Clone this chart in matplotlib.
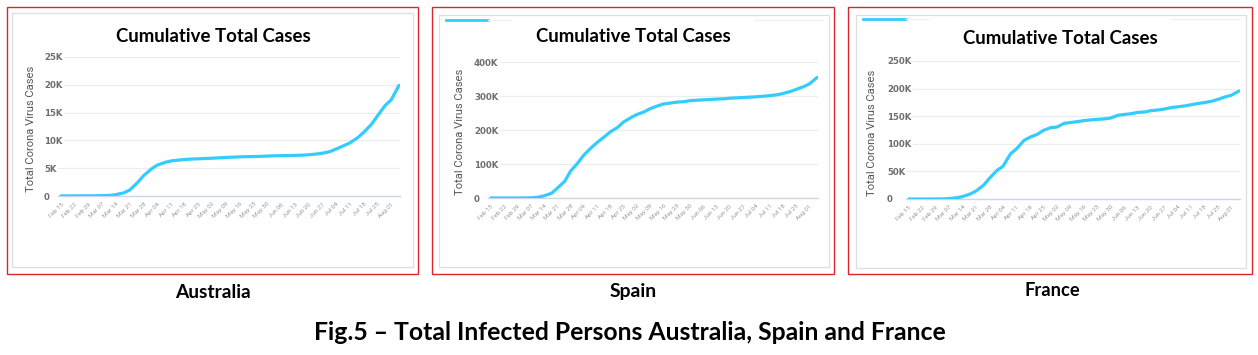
import matplotlib
matplotlib.use("Agg")
import matplotlib.pyplot as plt
from matplotlib.patches import Rectangle
from matplotlib.lines import Line2D
from matplotlib.ticker import FuncFormatter

# ---------------- data ----------------
# day index counted from Feb 15
days = [0, 4, 7, 11, 14, 18, 21, 25, 28, 32, 35, 39, 42, 46, 49, 53, 56, 60, 63, 67,
        70, 74, 77, 81, 84, 88, 91, 95, 98, 102, 105, 109, 112, 116, 119, 123, 126,
        130, 133, 137, 140, 144, 147, 151, 154, 158, 161, 165, 168, 172]

australia = [15, 15, 22, 23, 25, 41, 66, 112, 250, 565, 1071, 2423, 3635, 4862, 5550,
             6052, 6303, 6462, 6565, 6654, 6695, 6752, 6801, 6875, 6939, 6989, 7045,
             7081, 7095, 7139, 7185, 7229, 7255, 7276, 7300, 7347, 7410, 7558, 7686,
             8001, 8449, 9059, 9553, 10487, 11441, 12894, 14403, 16298, 17282, 19890]

spain = [2, 2, 2, 13, 45, 222, 500, 2277, 6391, 13910, 28603, 49515, 78797, 104118,
         126168, 148220, 163027, 180659, 194416, 208389, 223759, 236899, 245567,
         253682, 262783, 271095, 276505, 279524, 281904, 283339, 286509, 287740,
         288630, 289787, 291008, 291763, 293584, 294566, 295549, 296739, 297625,
         299593, 300988, 303699, 307335, 313274, 319501, 327690, 335602, 354530]

france = [12, 12, 12, 18, 100, 212, 949, 2281, 4469, 9134, 14459, 25233, 37575, 52128,
          59105, 82048, 90676, 106206, 111821, 117324, 124114, 129442, 130185, 137150,
          138421, 140227, 141919, 143427, 144163, 145279, 146555, 151753, 153055,
          154591, 156813, 157716, 160093, 161348, 162936, 165719, 166960, 168810,
          170752, 173304, 174674, 177338, 180528, 185196, 187919, 195633]

tick_days = list(range(0, 169, 7))
tick_labels = ["Feb 15", "Feb 22", "Feb 29", "Mar 07", "Mar 14", "Mar 21", "Mar 28",
               "Apr 04", "Apr 11", "Apr 18", "Apr 25", "May 02", "May 09", "May 16",
               "May 23", "May 30", "Jun 06", "Jun 13", "Jun 20", "Jun 27", "Jul 04",
               "Jul 11", "Jul 18", "Jul 25", "Aug 01"]

countries = ["Australia", "Spain", "France"]
y_ticks = [[0, 5000, 10000, 15000, 20000, 25000],
           [0, 100000, 200000, 300000, 400000],
           [0, 50000, 100000, 150000, 200000, 250000]]
chart_title = "Cumulative Total Cases"
y_label = "Total Corona Virus Cases"
caption = "Fig.5 \u2013 Total Infected Persons Australia, Spain and France"

# ---------------- layout ----------------
W, H = 1258, 355
fig = plt.figure(figsize=(W / 100, H / 100), dpi=100)
fig.patch.set_facecolor("white")

def fx(x):
    return x / W

def fy(y):
    return 1 - y / H

def rect(l, t, r, b):
    return [fx(l), fy(b), (r - l) / W, (b - t) / H]

LINE = "#33ccff"
panels = [
    dict(red=(7, 7, 418, 274), grey=(12, 13, 413, 267), ax=(58, 57, 400, 196),
         lab_left=44, title=(213, 37), ylab=(31, 129), name=(213, 292), leg=None),
    dict(red=(432, 7, 834, 274), grey=(439, 15, 829, 267), ax=(488, 62, 818, 198),
         lab_left=474, title=(633, 37), ylab=(460, 132), name=(633, 291),
         leg=(446, 488, 20)),
    dict(red=(848, 7, 1252, 274), grey=(856, 15, 1246, 268), ax=(906, 61, 1240, 199),
         lab_left=887, title=(1060, 38), ylab=(872, 133), name=(1052, 290),
         leg=(863, 906, 19)),
]
series = [australia, spain, france]

def kfmt(v, pos):
    return "0" if v == 0 else f"{int(v / 1000)}K"

fit_items = []
for p, vals, yt, cname in zip(panels, series, y_ticks, countries):
    l, t, r, b = p["red"]
    fig.patches.append(Rectangle((fx(l), fy(b)), (r - l) / W, (b - t) / H,
                                 transform=fig.transFigure, fill=False,
                                 edgecolor="#d9262b", lw=1.0))
    l, t, r, b = p["grey"]
    fig.patches.append(Rectangle((fx(l), fy(b)), (r - l) / W, (b - t) / H,
                                 transform=fig.transFigure, fill=False,
                                 edgecolor="#dedede", lw=0.9))
    if p["leg"]:
        x0, x1, yy = p["leg"]
        fig.lines.append(Line2D([fx(x0), fx(x1)], [fy(yy), fy(yy)],
                                transform=fig.transFigure, color=LINE, lw=2.0))
        fig.lines.append(Line2D([fx(x1), fx(x1 + 22)], [fy(yy), fy(yy)],
                                transform=fig.transFigure, color="#f0f0f0", lw=1.0))
        fig.lines.append(Line2D([fx(p["red"][2] - 80), fx(p["red"][2] - 12)],
                                [fy(yy), fy(yy)],
                                transform=fig.transFigure, color="#f0f0f0", lw=1.0))

    ax = fig.add_axes(rect(*p["ax"]))
    ax.set_facecolor("none")
    ax.plot(days, vals, color=LINE, lw=2.3, solid_capstyle="round",
            solid_joinstyle="round", zorder=3)
    ax.set_xlim(-1.5, 172.5)
    ax.set_ylim(0, yt[-1])
    ax.set_yticks(yt)
    ax.yaxis.set_major_formatter(FuncFormatter(kfmt))
    ax.set_xticks(tick_days)
    ax.set_xticklabels(tick_labels, rotation=45, ha="right", rotation_mode="anchor",
                       fontsize=4.5, color="#9a9a9a", family="Roboto")
    pad_pt = (p["ax"][0] - p["lab_left"]) * 72 / 100
    ax.tick_params(axis="y", length=0, pad=pad_pt)
    ax.tick_params(axis="x", length=0, pad=4)
    for lab in ax.get_yticklabels():
        lab.set_family("DejaVu Sans")
        lab.set_fontweight("bold")
        lab.set_color("#6e6e6e")
        lab.set_fontsize(6.2)
        lab.set_horizontalalignment("left")
        lab.set_bbox(dict(facecolor="white", edgecolor="none", pad=1.2))
    ax.grid(axis="y", color="#ececec", lw=0.8)
    ax.set_axisbelow(True)
    for s in ["top", "right", "left"]:
        ax.spines[s].set_visible(False)
    ax.spines["bottom"].set_color("#ccd6eb")
    ax.spines["bottom"].set_linewidth(1.0)

    tt = fig.text(fx(p["title"][0]), fy(p["title"][1]), chart_title, ha="center",
                  va="center", family="Lato", fontweight="bold", fontsize=13,
                  color="black")
    fit_items.append((tt, 195, "w"))
    yl = fig.text(fx(p["ylab"][0]), fy(p["ylab"][1]), y_label, ha="center",
                  va="center", rotation=90, family="Roboto", fontsize=8,
                  color="#555555")
    fit_items.append((yl, 128, "h"))
    nm = fig.text(fx(p["name"][0]), fy(p["name"][1]), cname, ha="center",
                  va="center", family="Lato", fontweight="bold", fontsize=12,
                  color="black")
    fit_items.append((nm, {"Australia": 75, "Spain": 47, "France": 55}[cname], "w"))

cap = fig.text(fx(630), fy(333), caption, ha="center", va="center", family="Lato",
               fontweight="bold", fontsize=15, color="black")
fit_items.append((cap, 633, "w"))

fig.canvas.draw()
rend = fig.canvas.get_renderer()
for txt, target, mode in fit_items:
    bb = txt.get_window_extent(rend)
    cur = bb.width if mode == "w" else bb.height
    txt.set_fontsize(txt.get_fontsize() * target / cur)

fig.savefig("out.png", dpi=100, facecolor="white")
